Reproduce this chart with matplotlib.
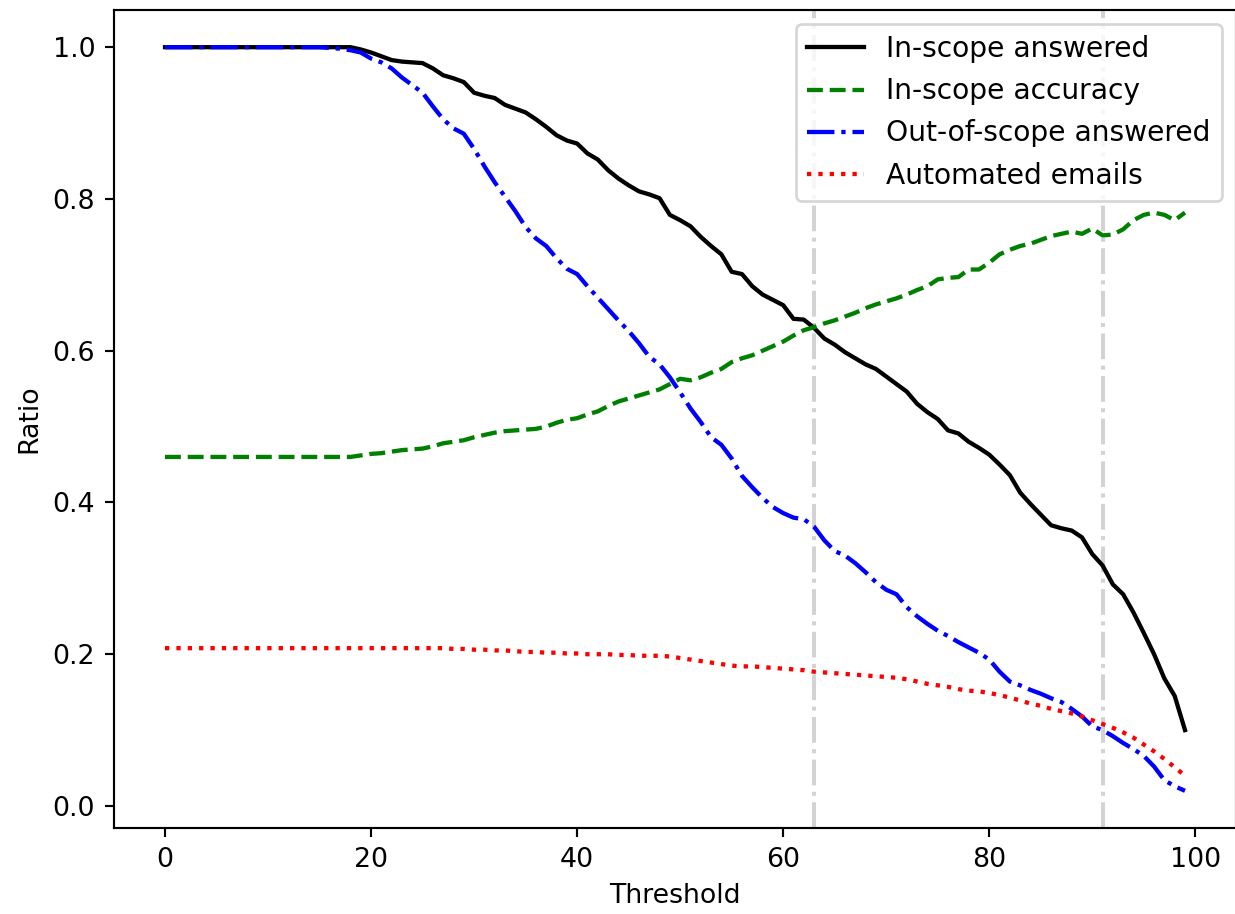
import matplotlib
import numpy as np

matplotlib.use("Agg")
import matplotlib.pyplot as plt

# --- Data ---
thresholds = np.arange(100)

in_scope_answered = [1.0] * 19 + [
    0.997, 0.993, 0.988, 0.983, 0.981, 0.980, 0.979, 0.972, 0.963, 0.959,
    0.954, 0.940, 0.936, 0.933, 0.924, 0.919, 0.914, 0.905, 0.895, 0.884,
    0.877, 0.873, 0.860, 0.852, 0.838, 0.827, 0.818, 0.810, 0.806, 0.801,
    0.779, 0.772, 0.764, 0.750, 0.738, 0.727, 0.704, 0.701, 0.685, 0.674,
    0.667, 0.660, 0.642, 0.641, 0.630, 0.616, 0.608, 0.598, 0.590, 0.582,
    0.576, 0.566, 0.556, 0.546, 0.530, 0.519, 0.510, 0.495, 0.491, 0.480,
    0.472, 0.463, 0.450, 0.436, 0.413, 0.398, 0.384, 0.370, 0.366, 0.363,
    0.354, 0.332, 0.317, 0.292, 0.279, 0.255, 0.228, 0.200, 0.168, 0.145,
    0.100,
]

in_scope_accuracy = [0.460] * 19 + [
    0.462, 0.464, 0.465, 0.467, 0.469, 0.470, 0.471, 0.474, 0.478, 0.480,
    0.482, 0.486, 0.489, 0.492, 0.494, 0.495, 0.496, 0.497, 0.500, 0.505,
    0.509, 0.511, 0.516, 0.520, 0.527, 0.533, 0.537, 0.541, 0.545, 0.549,
    0.556, 0.563, 0.561, 0.565, 0.571, 0.576, 0.585, 0.590, 0.594, 0.600,
    0.606, 0.612, 0.620, 0.627, 0.631, 0.636, 0.640, 0.645, 0.650, 0.656,
    0.661, 0.665, 0.669, 0.674, 0.680, 0.685, 0.694, 0.696, 0.697, 0.707,
    0.707, 0.716, 0.727, 0.733, 0.738, 0.741, 0.746, 0.751, 0.754, 0.757,
    0.754, 0.761, 0.752, 0.753, 0.760, 0.772, 0.779, 0.782, 0.779, 0.772,
    0.782,
]

out_scope_answered = [1.0] * 16 + [
    0.999, 0.998, 0.996, 0.993, 0.985, 0.980, 0.972, 0.960, 0.950, 0.940,
    0.922, 0.905, 0.893, 0.886, 0.866, 0.843, 0.822, 0.803, 0.784, 0.763,
    0.748, 0.738, 0.722, 0.708, 0.701, 0.685, 0.670, 0.655, 0.640, 0.626,
    0.610, 0.592, 0.582, 0.565, 0.545, 0.524, 0.506, 0.486, 0.476, 0.458,
    0.435, 0.420, 0.406, 0.394, 0.386, 0.380, 0.378, 0.368, 0.350, 0.336,
    0.330, 0.320, 0.308, 0.295, 0.285, 0.279, 0.262, 0.250, 0.240, 0.231,
    0.224, 0.216, 0.209, 0.202, 0.193, 0.177, 0.164, 0.159, 0.153, 0.148,
    0.142, 0.137, 0.128, 0.118, 0.105, 0.100, 0.092, 0.083, 0.075, 0.066,
    0.052, 0.034, 0.026, 0.020,
]

automated_emails = [0.208] * 28 + [
    0.207, 0.207, 0.206, 0.206, 0.205, 0.205, 0.204, 0.203, 0.203, 0.202,
    0.202, 0.201, 0.201, 0.200, 0.200, 0.200, 0.199, 0.199, 0.198, 0.198,
    0.198, 0.197, 0.195, 0.193, 0.191, 0.189, 0.187, 0.185, 0.184, 0.184,
    0.183, 0.182, 0.181, 0.180, 0.179, 0.177, 0.176, 0.175, 0.174, 0.173,
    0.172, 0.171, 0.170, 0.169, 0.167, 0.164, 0.161, 0.159, 0.157, 0.154,
    0.152, 0.151, 0.149, 0.146, 0.143, 0.139, 0.135, 0.132, 0.128, 0.125,
    0.122, 0.118, 0.113, 0.108, 0.103, 0.097, 0.090, 0.081, 0.072, 0.062,
    0.051, 0.040,
]

marked_thresholds = [63, 91]


def main():
    figure = plt.figure(figsize=(1235 / 193, 914 / 193), dpi=193)
    axis = figure.add_axes([114 / 1235, 86 / 914, 1122 / 1235, 818 / 914])

    # Grey markers for the chosen thresholds, kept under the curves
    for t in marked_thresholds:
        axis.axvline(t, color="lightgray", linestyle="-.", linewidth=1.5, zorder=1)

    axis.plot(thresholds, in_scope_answered, color="black", linestyle="-",
              linewidth=1.6, label="In-scope answered")
    axis.plot(thresholds, in_scope_accuracy, color="green", linestyle="--",
              linewidth=1.6, label="In-scope accuracy")
    axis.plot(thresholds, out_scope_answered, color="blue", linestyle="-.",
              linewidth=1.6, label="Out-of-scope answered")
    axis.plot(thresholds, automated_emails, color="red", linestyle=":",
              linewidth=1.6, label="Automated emails")

    axis.set_xlabel("Threshold")
    axis.set_ylabel("Ratio")
    axis.legend(loc="upper right", fontsize=10.5)

    figure.savefig("out.png", dpi=193)
    plt.close(figure)


if __name__ == "__main__":
    main()
